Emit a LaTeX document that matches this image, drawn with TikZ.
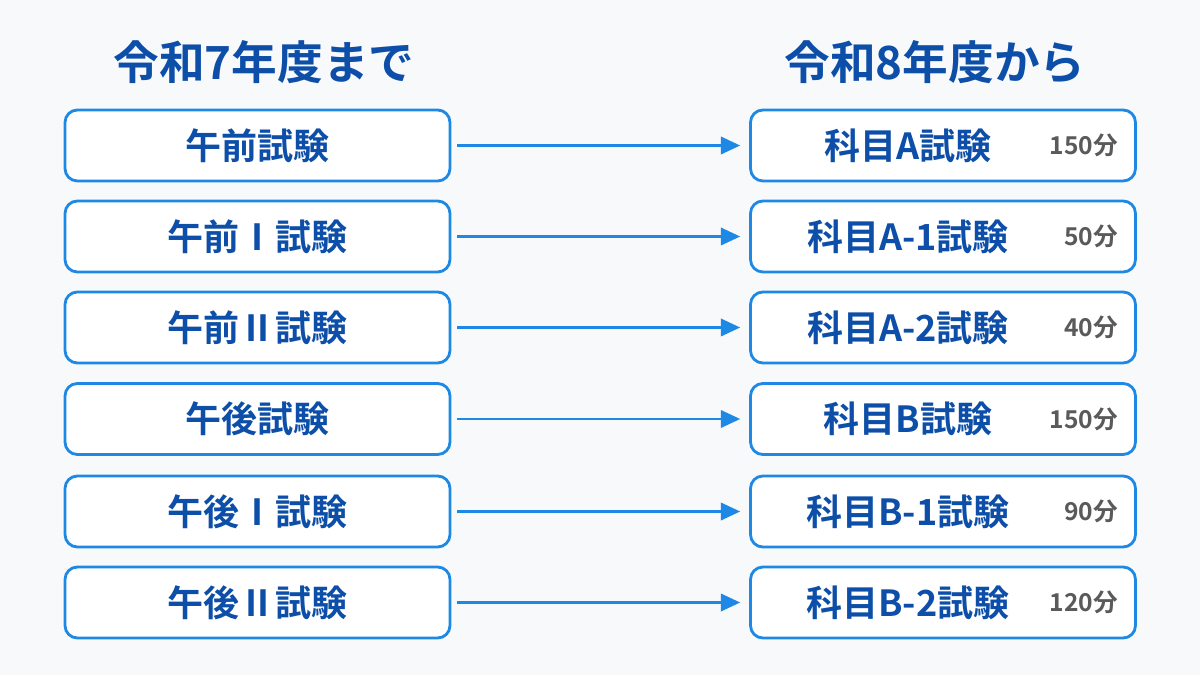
\documentclass[tikz,border=0pt]{standalone}
\usepackage{fontspec}
\newfontfamily\cjk{Noto Sans CJK JP Bold}
\usetikzlibrary{arrows.meta}
\definecolor{bd}{HTML}{1E88E5}
\definecolor{tx}{HTML}{0D4FA8}
\definecolor{gr}{HTML}{5A5A5A}
\definecolor{bg}{HTML}{F8F9FB}
\begin{document}
\begin{tikzpicture}[x=0.02cm,y=-0.02cm,
  box/.style={draw=bd,line width=1.6pt,rounded corners=7pt,fill=white,minimum width=7.7cm,minimum height=1.42cm,inner sep=0pt},
  lbl/.style={font=\cjk\fontsize{20.5}{20.5}\selectfont,text=tx},
  tm/.style={font=\cjk\fontsize{14}{14}\selectfont,text=gr,anchor=east,inner sep=0pt},
  hd/.style={font=\cjk\fontsize{26}{26}\selectfont,text=tx},
  arr/.style={draw=bd,line width=1.2pt,-{Triangle[length=11pt,width=10pt]}}]
\fill[bg] (0,0) rectangle (1200,675);
\node[hd] (h1) at (264,62) {令和7年度まで};
\node[hd] (h2) at (935,62) {令和8年度から};
\foreach \i/\y/\l/\r/\t in {1/145.5/午前試験/科目A試験/150分, 2/236.5/午前Ⅰ試験/科目A-1試験/50分, 3/327.5/午前Ⅱ試験/科目A-2試験/40分, 4/419/午後試験/科目B試験/150分, 5/511.5/午後Ⅰ試験/科目B-1試験/90分, 6/602.5/午後Ⅱ試験/科目B-2試験/120分}{
  \node[box] (L\i) at (257.5,\y) {};
  \node[lbl] at (257.5,\y) {\l};
  \node[box] (R\i) at (943,\y) {};
  \node[lbl] at (908,\y) {\r};
  \node[tm] at (1118,\y) {\t};
  \draw[arr] ([xshift=0.12cm]L\i.east) -- ([xshift=-0.18cm]R\i.west);
}
\end{tikzpicture}
\end{document}
